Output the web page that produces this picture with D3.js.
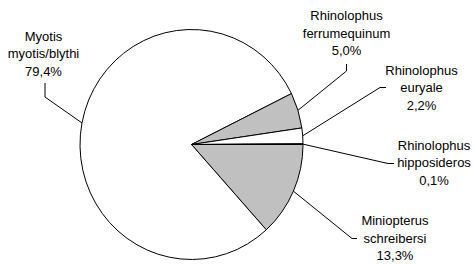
<!DOCTYPE html>
<html>
<head>
<meta charset="utf-8">
<script src="https://cdn.jsdelivr.net/npm/d3@7"></script>
<style>
  body { margin: 0; background: #fff; }
  text { font-family: "Liberation Sans", Arial, sans-serif; font-size: 13px; fill: #000; }
</style>
</head>
<body>
<div id="chart"></div>
<script>
// slices, clockwise from 3 o'clock
var species = ["Miniopterus schreibersi", "Myotis myotis/blythi", "Rhinolophus ferrumequinum", "Rhinolophus euryale", "Rhinolophus hipposideros"];
var labelLines = [["Miniopterus", "schreibersi"], ["Myotis", "myotis/blythi"], ["Rhinolophus", "ferrumequinum"], ["Rhinolophus", "euryale"], ["Rhinolophus", "hipposideros"]];
var percents = [13.3, 79.4, 5.0, 2.2, 0.1];
var fills = ["#c0c0c0", "#ffffff", "#c0c0c0", "#ffffff", "#c0c0c0"];

// label layout (text centre x, first line centre y) and leader elbows
var labelAt = [[395, 220.5], [43.5, 36], [346.5, 15.5], [421.5, 70], [434, 145]];
var elbows = [[[352, 238.5], [357, 238.5]],
              [[45, 97], [45, 83]],
              [[346.5, 71], [346.5, 64]],
              [[380, 87.5], [386, 87.5]],
              [[388, 163.5], [394, 163.5]]];

var W = 473, H = 264;
var cx = 191.5, cy = 144.5, rx = 111.5, ry = 115;
var lineH = 17.5;

var svg = d3.select("#chart").append("svg")
  .attr("width", W)
  .attr("height", H);

var data = species.map(function(s, i) { return {name: s, value: percents[i], i: i}; });

var pie = d3.pie()
  .sort(null)
  .value(function(d) { return d.value; })
  .startAngle(Math.PI / 2)
  .endAngle(Math.PI / 2 + 2 * Math.PI);

var arc = d3.arc().innerRadius(0).outerRadius(rx);

var arcs = pie(data);

var g = svg.append("g")
  .attr("transform", "translate(" + cx + "," + cy + ") scale(1," + (ry / rx) + ")");

g.selectAll("path")
  .data(arcs)
  .enter().append("path")
    .attr("d", arc)
    .attr("fill", function(d) { return fills[d.data.i]; })
    .attr("stroke", "#000")
    .attr("stroke-width", 1)
    .attr("vector-effect", "non-scaling-stroke")
    .attr("stroke-linejoin", "miter");

// leader lines from the rim at the middle of each slice
var line = d3.line();
svg.append("g").selectAll("path")
  .data(arcs)
  .enter().append("path")
    .attr("d", function(d) {
      var a = (d.startAngle + d.endAngle) / 2;
      var p0 = [cx + rx * Math.sin(a), cy - ry * Math.cos(a)];
      return line([p0].concat(elbows[d.data.i]));
    })
    .attr("fill", "none")
    .attr("stroke", "#000")
    .attr("stroke-width", 1);

// labels
var fmt = function(v) { return d3.format(".1f")(v).replace(".", ",") + "%"; };

var labels = svg.append("g").selectAll("text")
  .data(data)
  .enter().append("text")
    .attr("text-anchor", "middle")
    .attr("x", function(d) { return labelAt[d.i][0]; })
    .attr("y", function(d) { return labelAt[d.i][1] + 4.5; });

labels.each(function(d) {
  var t = d3.select(this);
  var lines = labelLines[d.i].concat([fmt(d.value)]);
  lines.forEach(function(s, k) {
    t.append("tspan")
      .attr("x", labelAt[d.i][0])
      .attr("dy", k === 0 ? 0 : lineH)
      .text(s);
  });
});
</script>
</body>
</html>
